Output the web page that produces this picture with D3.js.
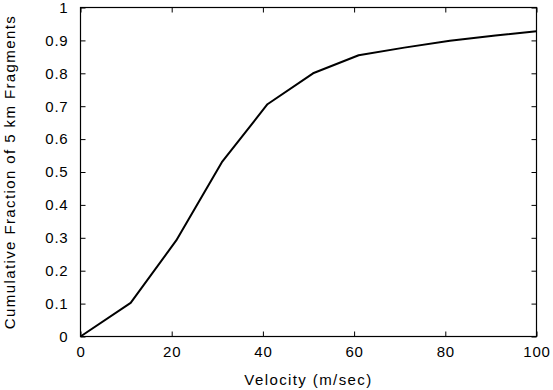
<!DOCTYPE html>
<html><head><meta charset="utf-8">
<script src="https://cdn.jsdelivr.net/npm/d3@7"></script>
<style>body{margin:0;background:#fff}svg{display:block}text{font-family:"Liberation Sans",Arial,sans-serif;fill:#000}</style>
</head><body>
<svg id="c" width="553" height="390"></svg>
<script>
const velocity = [0, 11, 21, 31, 41, 51, 61, 71, 81, 91, 100];
const fraction = [0, 0.102, 0.292, 0.53, 0.706, 0.80, 0.855, 0.878, 0.899, 0.915, 0.928];
const xTicks = [0, 20, 40, 60, 80, 100];
const yTicks = [0, 0.1, 0.2, 0.3, 0.4, 0.5, 0.6, 0.7, 0.8, 0.9, 1];
const xTitle = "Velocity (m/sec)";
const yTitle = "Cumulative Fraction of 5 km Fragments";

const svg = d3.select("#c");
const L = 80.5, R = 536.5, T = 7.5, B = 336.5;
const x = d3.scaleLinear().domain([0, 100]).range([L, R]);
const y = d3.scaleLinear().domain([0, 1]).range([B, T]);

const g = svg.append("g");
const tl = 5;
g.append("g").attr("transform", `translate(0,${B})`)
  .call(d3.axisBottom(x).tickValues(xTicks).tickSize(-tl).tickPadding(10).tickFormat(d3.format("d")))
  .call(a => { a.select(".domain").remove(); a.selectAll("text").attr("font-size", 15).attr("letter-spacing", 0.8).attr("dy", "0.71em"); });
g.append("g").attr("transform", `translate(0,${T})`)
  .call(d3.axisTop(x).tickValues(xTicks).tickSize(-tl).tickFormat(""))
  .call(a => a.select(".domain").remove());
g.append("g").attr("transform", `translate(${L},0)`)
  .call(d3.axisLeft(y).tickValues(yTicks).tickSize(-tl).tickPadding(12).tickFormat(d => d === 0 || d === 1 ? d3.format("d")(d) : d3.format(".1f")(d)))
  .call(a => { a.select(".domain").remove(); a.selectAll("text").attr("font-size", 15).attr("letter-spacing", 0.8); });
g.append("g").attr("transform", `translate(${R},0)`)
  .call(d3.axisRight(y).tickValues(yTicks).tickSize(-tl).tickFormat(""))
  .call(a => a.select(".domain").remove());
g.selectAll(".tick line").attr("stroke", "#000");

svg.append("rect").attr("x", L).attr("y", T).attr("width", R - L).attr("height", B - T)
  .attr("fill", "none").attr("stroke", "#000").attr("stroke-width", 1.2);

const line = d3.line().x((d, i) => x(velocity[i])).y(d => y(d));
svg.append("path").datum(fraction).attr("d", line)
  .attr("fill", "none").attr("stroke", "#000").attr("stroke-width", 2).attr("stroke-linejoin", "round");

svg.append("text").attr("x", (L + R) / 2).attr("y", 385).attr("text-anchor", "middle").attr("font-size", 15).attr("letter-spacing", 1.4).text(xTitle);
svg.append("text").attr("transform", `translate(15,${(T + B) / 2}) rotate(-90)`).attr("text-anchor", "middle").attr("font-size", 15).attr("letter-spacing", 1.4).text(yTitle);
</script>
</body></html>
